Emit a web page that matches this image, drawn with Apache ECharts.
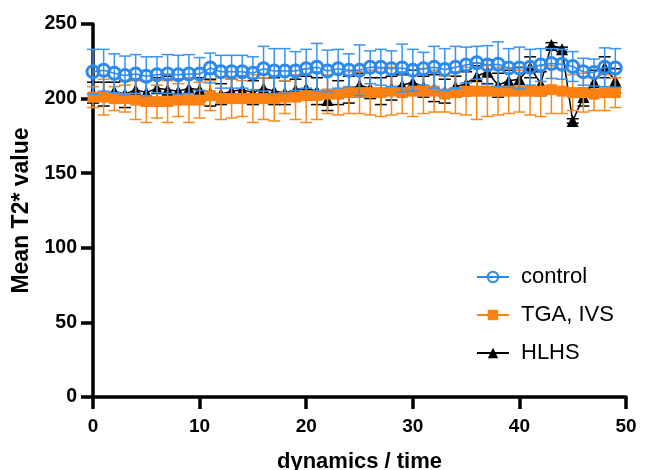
<!DOCTYPE html>
<html>
<head>
<meta charset="utf-8">
<script src="https://cdn.jsdelivr.net/npm/echarts@6/dist/echarts.min.js"></script>
<style>html,body{margin:0;padding:0;background:#fff}#c{width:649px;height:470px}</style>
</head>
<body>
<div id="c"></div>
<script>
// ---- data ----
var timePoints = [0,1,2,3,4,5,6,7,8,9,10,11,12,13,14,15,16,17,18,19,20,21,22,23,24,25,26,27,28,29,30,31,32,33,34,35,36,37,38,39,40,41,42,43,44,45,46,47,48,49];
var controlMean = [218,219,217,215.5,216.5,215,216,216.5,216,216.5,216.5,220.5,218,218,218,217,220,218.5,218.5,218.5,220,221,218.5,220,219,219,221,221,220,220.5,219,220,221,219.5,221,222.5,224,222.5,223,220.5,220.5,221,222.5,223.5,223,221.5,218,217.5,221,220.5];
var controlSD = [15,14,13,13,13,13,12,13,13,13,11,10,11,11,11,11,15,15,15,13,13,16,14,13,11,17,11,12,12,16,14,11,14,14,14,12,11,13,15,13,14,12,11,10,10,10,9,9,13,13];
var tgaMean = [201,201,200,200,199,198,198,198,199,199,199,202,200,200,200,200,200,200,201,201,202,202,203,203,204,204,204,204,205,204,205,205,205,203,204,205,205,205,205,205,205,205,205,206,205,204,204,203,204,204];
var tgaSD = [7,12,8,9,13,14,11,14,11,15,12,10,14,13,12,16,14,15,11,15,18,16,13,14,14,14,15,16,16,14,17,15,14,12,14,16,19,17,16,15,14,16,17,16,15,12,13,11,12,10];
var hlhsMean = [204,203,205,203,206,204,207,206,205,207,206,204,203,205,206,204,207,205,204,206,207,205,199,204,206,209,207,205,207,209,211,208,207,205,208,210,215,218,209,212,213,221,210,236,233,185,201,211,221,212];
var hlhsSD = [7,8,6,9,7,8,7,9,8,7,8,9,7,8,9,8,7,9,8,7,8,9,7,8,9,8,7,9,8,7,8,7,9,8,7,8,7,8,8,7,8,7,8,1.5,1.5,1.5,6,8,7,8];
var seriesNames = ['control','TGA, IVS','HLHS'];
var xTicks = {min:0, max:50, interval:10};
var yTicks = {min:0, max:250, interval:50};

var BLUE = '#2a8af0', ORANGE = '#fb8012', BLACK = '#000000';

function pairs(means){ return timePoints.map(function(t,i){ return [t, means[i]]; }); }
function triples(means, sds){ return timePoints.map(function(t,i){ return [t, means[i], sds[i]]; }); }

function errRender(color, capW, lw){
  return function(params, api){
    var x = api.value(0), y = api.value(1), e = api.value(2);
    var top = api.coord([x, y + e]), bot = api.coord([x, y - e]);
    var st = {stroke: color, lineWidth: lw};
    return {type:'group', children:[
      {type:'line', shape:{x1:top[0], y1:top[1], x2:bot[0], y2:bot[1]}, style:st},
      {type:'line', shape:{x1:top[0]-capW/2, y1:top[1], x2:top[0]+capW/2, y2:top[1]}, style:st},
      {type:'line', shape:{x1:bot[0]-capW/2, y1:bot[1], x2:bot[0]+capW/2, y2:bot[1]}, style:st}
    ]};
  };
}

var chart = echarts.init(document.getElementById('c'), null, {renderer:'canvas'});
var font = '"Liberation Sans", Arial, Helvetica, sans-serif';
chart.setOption({
  animation:false,
  backgroundColor:'#ffffff',
  grid:{left:93, right:23, top:24, bottom:73, containLabel:false, outerBoundsMode:'none'},
  legend:{
    data:[
      {name:seriesNames[0]},
      {name:seriesNames[1]},
      {name:seriesNames[2]}
    ],
    orient:'vertical', left:471, top:261,
    itemWidth:32, itemHeight:13, itemGap:16,
    textStyle:{fontFamily:font, fontSize:22, color:'#000', lineHeight:22, padding:[0,0,0,7]}
  },
  xAxis:{
    type:'value', min:xTicks.min, max:xTicks.max, interval:xTicks.interval,
    name:'dynamics / time', nameLocation:'middle', nameGap:54,
    nameTextStyle:{fontFamily:font, fontSize:22, fontWeight:'bold', color:'#000'},
    axisLine:{show:true, onZero:false, lineStyle:{color:'#000', width:3.5}},
    axisTick:{show:true, length:12, lineStyle:{color:'#000', width:3.5}},
    axisLabel:{fontFamily:font, fontSize:19, fontWeight:'bold', color:'#000', margin:20},
    splitLine:{show:false}
  },
  yAxis:{
    type:'value', min:yTicks.min, max:yTicks.max, interval:yTicks.interval,
    name:'Mean T2* value', nameLocation:'middle', nameGap:60, nameRotate:90,
    nameTextStyle:{fontFamily:font, fontSize:23, fontWeight:'bold', color:'#000'},
    axisLine:{show:true, onZero:false, lineStyle:{color:'#000', width:3.5}},
    axisTick:{show:true, length:12, lineStyle:{color:'#000', width:3.5}},
    axisLabel:{fontFamily:font, fontSize:19.5, fontWeight:'bold', color:'#000', margin:16},
    splitLine:{show:false}
  },
  series:[
    {type:'custom', name:'hlhsErr', z:2, renderItem:errRender(BLACK, 12, 1.5), data:triples(hlhsMean, hlhsSD), silent:true},
    {type:'line', name:seriesNames[2], z:3, data:pairs(hlhsMean), symbol:'triangle', symbolSize:12,
      itemStyle:{color:BLACK}, lineStyle:{color:BLACK, width:1.5}},
    {type:'custom', name:'tgaErr', z:4, renderItem:errRender('#f98a1f', 12, 1.5), data:triples(tgaMean, tgaSD), silent:true},
    {type:'line', name:seriesNames[1], z:5, data:pairs(tgaMean), symbol:'rect', symbolSize:11,
      itemStyle:{color:ORANGE}, lineStyle:{color:ORANGE, width:4}},
    {type:'custom', name:'ctrlErr', z:6, renderItem:errRender('#3a93f3', 12, 1.5), data:triples(controlMean, controlSD), silent:true},
    {type:'line', name:seriesNames[0], z:7, data:pairs(controlMean), symbol:'circle', symbolSize:12,
      itemStyle:{color:'rgba(255,255,255,0)', borderColor:BLUE, borderWidth:3},
      lineStyle:{color:BLUE, width:1.5}}
  ]
});
</script>
</body>
</html>
